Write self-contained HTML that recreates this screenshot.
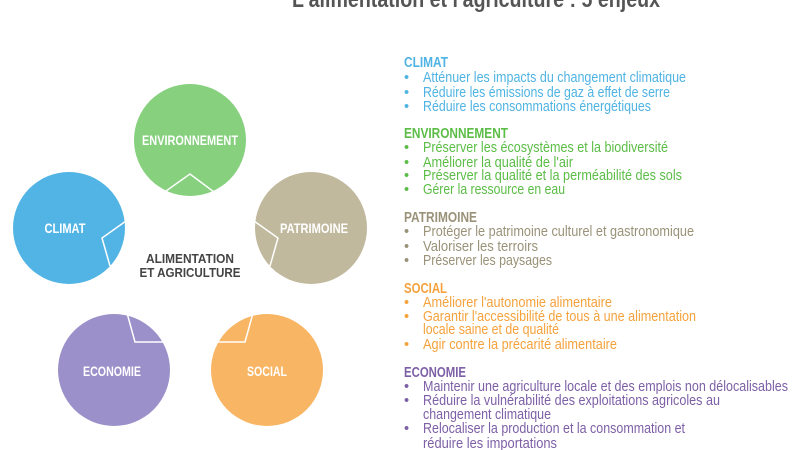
<!DOCTYPE html>
<html><head><meta charset="utf-8"><style>
html,body{margin:0;padding:0;background:#fff;width:797px;height:450px;overflow:hidden}
svg{display:block}
text{font-family:"Liberation Sans Narrow","Liberation Sans",sans-serif}
</style></head><body>
<svg width="797" height="450" viewBox="0 0 797 450" xmlns="http://www.w3.org/2000/svg">
<text x="292" y="7" font-size="23" font-weight="bold" fill="#555" textLength="368" lengthAdjust="spacingAndGlyphs">L'alimentation et l'agriculture : 5 enjeux</text>

<circle cx="190" cy="140" r="56" fill="#86d07e"/>
<circle cx="69" cy="228" r="56" fill="#52b4e4"/>
<circle cx="311" cy="228" r="56" fill="#c1b99d"/>
<circle cx="114" cy="370" r="56" fill="#9b90c9"/>
<circle cx="267" cy="370" r="56" fill="#f8b563"/>
<g fill="none" stroke="#fff" stroke-width="1.5">
<polyline points="166,191 190,174 214,192"/>
<polyline points="126,221 102,238 110,266"/>
<polyline points="254,221 278,238 270,266"/>
<polyline points="127,313 135,342 164,342"/>
<polyline points="253,313 245,342 216,342"/>
</g>
<g font-weight="bold" fill="#fff" font-size="14" text-anchor="middle" lengthAdjust="spacingAndGlyphs">
<text x="190" y="145" textLength="96" lengthAdjust="spacingAndGlyphs">ENVIRONNEMENT</text>
<text x="65" y="233" textLength="41" lengthAdjust="spacingAndGlyphs">CLIMAT</text>
<text x="314" y="233" textLength="68" lengthAdjust="spacingAndGlyphs">PATRIMOINE</text>
<text x="112" y="376" textLength="58" lengthAdjust="spacingAndGlyphs">ECONOMIE</text>
<text x="267" y="376" textLength="40" lengthAdjust="spacingAndGlyphs">SOCIAL</text>
</g>
<g font-weight="bold" fill="#444" font-size="13" text-anchor="middle">
<text x="190" y="263" textLength="88" lengthAdjust="spacingAndGlyphs">ALIMENTATION</text>
<text x="190" y="277" textLength="101" lengthAdjust="spacingAndGlyphs">ET AGRICULTURE</text>
</g>

<g font-size="14.5" lengthAdjust="spacingAndGlyphs">
<g fill="#4fb3e3">
<text x="404" y="67" font-weight="bold" textLength="44" lengthAdjust="spacingAndGlyphs">CLIMAT</text>
<text x="404" y="82">•</text><text x="423" y="82" textLength="263" lengthAdjust="spacingAndGlyphs">Atténuer les impacts du changement climatique</text>
<text x="404" y="97">•</text><text x="423" y="97" textLength="247" lengthAdjust="spacingAndGlyphs">Réduire les émissions de gaz à effet de serre</text>
<text x="404" y="111">•</text><text x="423" y="111" textLength="228" lengthAdjust="spacingAndGlyphs">Réduire les consommations énergétiques</text>
</g>
<g fill="#5bbd46">
<text x="404" y="138" font-weight="bold" textLength="104" lengthAdjust="spacingAndGlyphs">ENVIRONNEMENT</text>
<text x="404" y="152">•</text><text x="423" y="152" textLength="245" lengthAdjust="spacingAndGlyphs">Préserver les écosystèmes et la biodiversité</text>
<text x="404" y="167">•</text><text x="423" y="167" textLength="150" lengthAdjust="spacingAndGlyphs">Améliorer la qualité de l'air</text>
<text x="404" y="180">•</text><text x="423" y="180" textLength="259" lengthAdjust="spacingAndGlyphs">Préserver la qualité et la perméabilité des sols</text>
<text x="404" y="194">•</text><text x="423" y="194" textLength="142" lengthAdjust="spacingAndGlyphs">Gérer la ressource en eau</text>
</g>
<g fill="#9a9278">
<text x="404" y="222" font-weight="bold" textLength="73" lengthAdjust="spacingAndGlyphs">PATRIMOINE</text>
<text x="404" y="236">•</text><text x="423" y="236" textLength="271" lengthAdjust="spacingAndGlyphs">Protéger le patrimoine culturel et gastronomique</text>
<text x="404" y="251">•</text><text x="423" y="251" textLength="115" lengthAdjust="spacingAndGlyphs">Valoriser les terroirs</text>
<text x="404" y="265">•</text><text x="423" y="265" textLength="129" lengthAdjust="spacingAndGlyphs">Préserver les paysages</text>
</g>
<g fill="#f5a23c">
<text x="404" y="293" font-weight="bold" textLength="43" lengthAdjust="spacingAndGlyphs">SOCIAL</text>
<text x="404" y="307">•</text><text x="423" y="307" textLength="189" lengthAdjust="spacingAndGlyphs">Améliorer l'autonomie alimentaire</text>
<text x="404" y="321">•</text><text x="423" y="321" textLength="273" lengthAdjust="spacingAndGlyphs">Garantir l'accessibilité de tous à une alimentation</text>
<text x="423" y="334" textLength="136" lengthAdjust="spacingAndGlyphs">locale saine et de qualité</text>
<text x="404" y="349">•</text><text x="423" y="349" textLength="194" lengthAdjust="spacingAndGlyphs">Agir contre la précarité alimentaire</text>
</g>
<g fill="#7d5fa6">
<text x="404" y="377" font-weight="bold" textLength="62" lengthAdjust="spacingAndGlyphs">ECONOMIE</text>
<text x="404" y="391">•</text><text x="423" y="391" textLength="365" lengthAdjust="spacingAndGlyphs">Maintenir une agriculture locale et des emplois non délocalisables</text>
<text x="404" y="405">•</text><text x="423" y="405" textLength="297" lengthAdjust="spacingAndGlyphs">Réduire la vulnérabilité des exploitations agricoles au</text>
<text x="423" y="419" textLength="128" lengthAdjust="spacingAndGlyphs">changement climatique</text>
<text x="404" y="433">•</text><text x="423" y="433" textLength="262" lengthAdjust="spacingAndGlyphs">Relocaliser la production et la consommation et</text>
<text x="423" y="448" textLength="134" lengthAdjust="spacingAndGlyphs">réduire les importations</text>
</g>
</g>
</svg>
</body></html>
